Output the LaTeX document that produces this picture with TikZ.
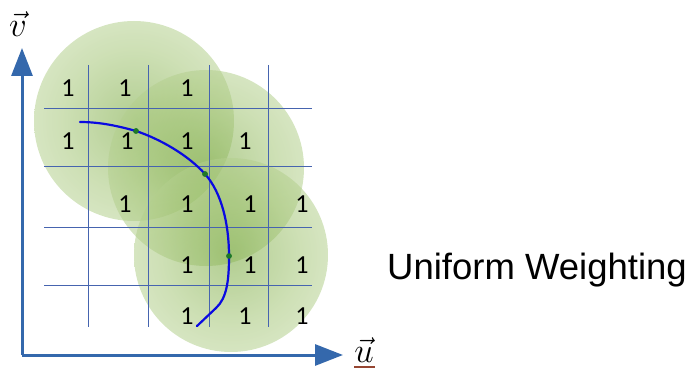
\documentclass[tikz,border=0pt]{standalone}
\usepackage{fontspec}
\setmainfont{Liberation Sans}
\newfontfamily\digitfont{Carlito}
\usetikzlibrary{arrows.meta}
\definecolor{axisblue}{RGB}{52,104,172}
\definecolor{gridblue}{RGB}{70,100,175}
\definecolor{curveblue}{RGB}{10,10,225}
\definecolor{dotgreen}{RGB}{30,120,40}
\definecolor{gin}{RGB}{115,165,55}
\definecolor{gmid}{RGB}{165,198,120}
\definecolor{gout}{RGB}{215,230,195}
\definecolor{gedge}{RGB}{228,238,215}
\definecolor{ulbrown}{RGB}{150,70,50}
\pgfdeclareradialshading{greenblob}{\pgfpoint{0bp}{0bp}}{color(0bp)=(gin); color(18bp)=(gmid); color(42bp)=(gout); color(50bp)=(gedge)}
\newcommand{\biglab}[1]{\scalebox{1.4}{$\vec{#1}$}}
\tikzset{
  blob/.style={shading=greenblob, opacity=0.55},
  axis/.style={draw=axisblue, line width=3pt, -{Triangle[length=28pt,width=21pt]}},
  gridline/.style={draw=gridblue, line width=0.9pt},
  one/.style={font=\digitfont\fontsize{26}{26}\selectfont, text=black, inner sep=0pt},
  dotg/.style={circle, fill=dotgreen, inner sep=0pt, minimum size=5.5pt},
  veclabel/.style={font=\fontsize{24.88}{26}\selectfont, inner sep=0pt}
}
\begin{document}
\begin{tikzpicture}[x=1pt,y=-1pt]
\useasboundingbox (0,0) rectangle (697,369);
% green blobs
\shade[blob] (134,121) circle[radius=100pt];
\shade[blob] (206,168) circle[radius=98pt];
\shade[blob] (231,255) circle[radius=97pt];
% grid
\foreach \x in {88,148,209,268} \draw[gridline] (\x,65) -- (\x,327);
\foreach \y in {108,166,227,285} \draw[gridline] (44,\y) -- (312,\y);
% numbers
\foreach \x/\y/\n in {68/88/a1,125/88/a2,187/88/a3,
  68/141/b1,127/141/b2,187/141/b3,245/141/b4,
  125/204/c1,187/204/c2,250/204/c3,302/204/c4,
  187/265/d1,250/265/d2,302/265/d3,
  187/316/e1,245/316/e2,302/316/e3}
  \node[one] (n\n) at (\x,\y) {1};
% curve
\coordinate (cstart) at (80,122);
\node[dotg] (p1) at (136,131) {};
\node[dotg] (p2) at (205,174) {};
\node[dotg] (p3) at (229,256) {};
\coordinate (cend) at (197,326);
\draw[curveblue, line width=2.2pt, line cap=round]
  (cstart) .. controls (100,122) and (118,126) .. (p1.center)
  .. controls (160,139) and (188,155) .. (p2.center)
  .. controls (222,193) and (229,225) .. (p3.center)
  .. controls (229,280) and (227,298) .. (216,308)
  -- (cend);
\node[dotg] at (p1) {};
\node[dotg] at (p2) {};
\node[dotg] at (p3) {};
% axes
\coordinate (origin) at (22,355);
\coordinate (vtip) at (22,48);
\coordinate (utip) at (343,355);
\draw[axis] (origin) -- (vtip);
\draw[axis] (origin) -- (utip);
% labels
\node[veclabel] (vlab) at (18,24) {\biglab{v}};
\node[veclabel] (ulab) at (364,350) {\biglab{u}};
\draw[ulbrown, line width=1.2pt] (354,367) -- (375,367);
\node[font=\fontsize{36.5}{40}\selectfont, anchor=base west, inner sep=0pt] (title) at (387,279) {Uniform Weighting};
\end{tikzpicture}
\end{document}
